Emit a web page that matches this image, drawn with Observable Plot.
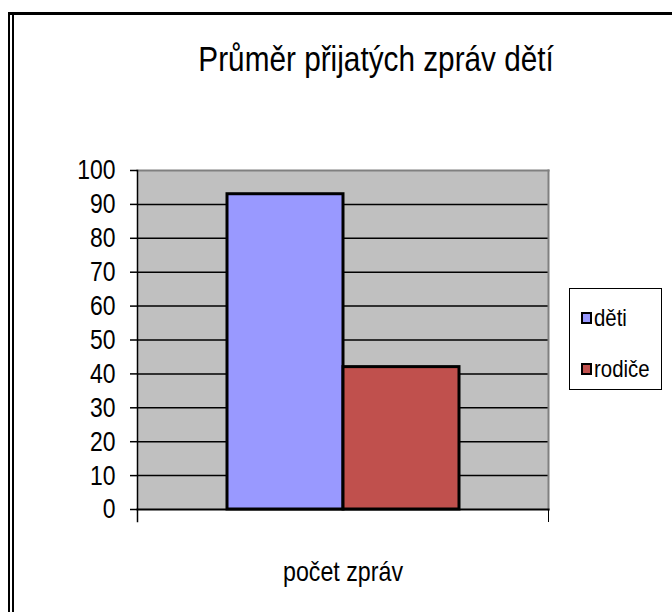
<!DOCTYPE html>
<html>
<head>
<meta charset="utf-8">
<script src="https://cdn.jsdelivr.net/npm/d3@7"></script>
<script src="https://cdn.jsdelivr.net/npm/@observablehq/plot@0.6"></script>
<style>
  html, body { margin: 0; padding: 0; background: #fff; }
  #wrap { position: relative; width: 672px; height: 612px; overflow: hidden; background: #fff; font-family: "Liberation Sans", Arial, sans-serif; }
  .bTop { position: absolute; left: 8px; top: 12px; width: 664px; height: 3px; background: #000; }
  .bL1 { position: absolute; left: 8px; top: 12px; width: 2px; height: 600px; background: #000; }
  .bL2 { position: absolute; left: 12px; top: 15px; width: 1.5px; height: 597px; background: #000; }
  #title { position: absolute; left: 0; width: 752px; top: 39px; text-align: center; font-size: 35px; line-height: 40px; color: #000; white-space: nowrap; }
  #title span { display: inline-block; transform: scaleX(0.85); transform-origin: center; }
  #chart { position: absolute; left: 0; top: 0; }
  #legend { position: absolute; left: 569px; top: 288px; width: 93px; height: 102px; border: 1px solid #000; box-sizing: border-box; background: #fff; }
  .item { position: absolute; left: 11px; font-size: 24px; line-height: 24px; display: flex; align-items: center; white-space: nowrap; }
  .item .lbl { display: inline-block; transform: scaleX(0.85); transform-origin: left center; }
  .sw { width: 7px; height: 8px; border: 2px solid #000; margin-right: 2px; flex: none; }
</style>
</head>
<body>
<div id="wrap">
  <div class="bTop"></div><div class="bL1"></div><div class="bL2"></div>
  <div id="title"><span></span></div>
  <div id="chart"></div>
  <div id="legend"></div>
</div>
<script>
const titleText = "Průměr přijatých zpráv dětí";
const categories = ["počet zpráv"];
const series = ["děti", "rodiče"];
const values = [93, 42];
const colors = ["#9999FF", "#C0504D"];
const yTicks = [0, 10, 20, 30, 40, 50, 60, 70, 80, 90, 100];

const data = series.map((s, i) => ({category: categories[0], series: s, value: values[i]}));

document.querySelector("#title span").textContent = titleText;

const font = '"Liberation Sans", Arial, sans-serif';

const chart = Plot.plot({
  width: 672,
  height: 612,
  marginLeft: 137,
  marginRight: 124,
  marginTop: 170,
  marginBottom: 103,
  style: {fontFamily: font, background: "transparent", color: "#000"},
  fx: {domain: categories, padding: 0, label: null, axis: null},
  x: {domain: series, paddingInner: 0, paddingOuter: 0.764, axis: null},
  y: {domain: [0, 100], label: null, axis: null},
  color: {domain: series, range: colors},
  marks: [
    Plot.frame({fill: "#C0C0C0", stroke: null}),
    Plot.ruleY(yTicks.filter(d => d > 0 && d < 100), {y: d => d, stroke: "#000", strokeWidth: 1.5}),
    Plot.frame({anchor: "top", stroke: "#808080", strokeWidth: 2}),
    Plot.frame({anchor: "right", stroke: "#808080", strokeWidth: 2}),
    Plot.barY(data, {fx: "category", x: "series", y: "value", fill: "series", stroke: "#000", strokeWidth: 3, inset: 0}),
    Plot.frame({anchor: "bottom", stroke: "#000", strokeWidth: 2}),
    Plot.frame({anchor: "left", stroke: "#000", strokeWidth: 1.5, insetBottom: -12}),
    Plot.frame({anchor: "right", stroke: "#000", strokeWidth: 1, insetTop: 339, insetBottom: -12}),
    Plot.axisY(yTicks, {tickSize: 7, tickPadding: 15, fontSize: 28, stroke: "#000", strokeWidth: 1.5}),
    Plot.axisFx(categories, {anchor: "bottom", tickSize: 0, tickPadding: 52, fontSize: 27, label: null})
  ]
});
document.getElementById("chart").appendChild(chart);

// condense the axis labels like the narrow font in the reference
function condense(sel, s) {
  d3.select(chart).selectAll(sel).each(function() {
    const x = +this.getAttribute("x") || 0;
    const y = +this.getAttribute("y") || 0;
    const t = this.getAttribute("transform") || "";
    this.setAttribute("transform", `${t} translate(${x},${y}) scale(${s},1) translate(${-x},${-y})`);
  });
}
condense('g[aria-label="y-axis tick label"] text', 0.82);
condense('g[aria-label="fx-axis tick label"] text', 0.86);

const legend = document.getElementById("legend");
series.forEach((s, i) => {
  const it = document.createElement("div");
  it.className = "item";
  it.style.top = (i === 0 ? 17 : 68) + "px";
  const sw = document.createElement("span");
  sw.className = "sw";
  sw.style.background = colors[i];
  it.appendChild(sw);
  const lb = document.createElement("span");
  lb.className = "lbl";
  lb.textContent = s;
  it.appendChild(lb);
  legend.appendChild(it);
});
</script>
</body>
</html>
